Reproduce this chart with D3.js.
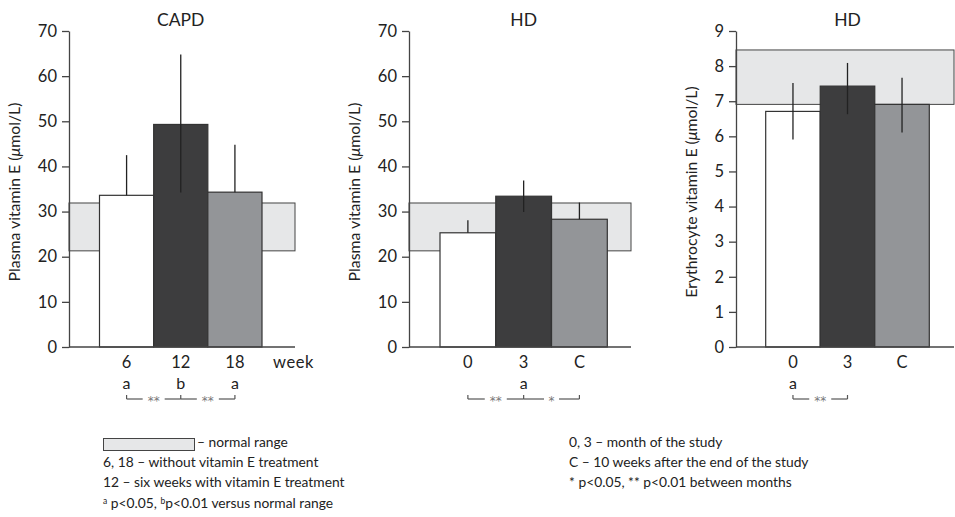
<!DOCTYPE html>
<html>
<head>
<meta charset="utf-8">
<script src="https://cdn.jsdelivr.net/npm/d3@7"></script>
<style>
  body { margin: 0; background: #fff; }
  svg { font-family: Lato, "Open Sans", sans-serif; }
</style>
</head>
<body>
<svg id="chart" width="955" height="517"></svg>
<script>
// data
var capdWeeks = ["6", "12", "18"];
var capdMeans = [33.6, 49.3, 34.3];
var capdErrLo = [33.6, 34.2, 34.3];
var capdErrHi = [42.5, 64.8, 44.8];
var capdLetters = ["a", "b", "a"];
var capdStars = ["**", "**"];

var hdMonths = ["0", "3", "C"];
var hdPlasmaMeans = [25.3, 33.4, 28.3];
var hdPlasmaErrLo = [25.3, 29.9, 28.3];
var hdPlasmaErrHi = [28.1, 36.9, 32.0];
var hdPlasmaLetters = ["", "a", ""];
var hdPlasmaStars = ["**", "*"];

var hdEryMeans = [6.71, 7.43, 6.91];
var hdEryErrLo = [5.91, 6.63, 6.11];
var hdEryErrHi = [7.52, 8.09, 7.67];
var hdEryLetters = ["a", "", ""];
var hdEryStars = ["**"];

var plasmaNormal = [21.3, 31.9];
var eryNormal = [6.91, 8.46];

var barColors = ["#ffffff", "#3d3d3e", "#939598"];

var legendLeft = ["6, 18 \u2013 without vitamin E treatment", "12 \u2013 six weeks with vitamin E treatment"];
var legendRight = ["0, 3 \u2013 month of the study", "C \u2013 10 weeks after the end of the study", "* p<0.05, ** p<0.01 between months"];

var svg = d3.select("#chart");
var yTop = 31, yBottom = 347;

var panels = [
  {title: "CAPD", label: "Plasma vitamin E (", ax: 69, right: 295, b0: 99.5, b1: 262, labx: 14,
   max: 70, step: 10, cats: capdWeeks, means: capdMeans, lo: capdErrLo, hi: capdErrHi,
   letters: capdLetters, stars: capdStars, normal: plasmaNormal, unit: "week"},
  {title: "HD", label: "Plasma vitamin E (", ax: 409, right: 631, b0: 440, b1: 607.3, labx: 354,
   max: 70, step: 10, cats: hdMonths, means: hdPlasmaMeans, lo: hdPlasmaErrLo, hi: hdPlasmaErrHi,
   letters: hdPlasmaLetters, stars: hdPlasmaStars, normal: plasmaNormal},
  {title: "HD", label: "Erythrocyte vitamin E (", ax: 736, right: 954, b0: 765.7, b1: 929.3, labx: 691,
   max: 9, step: 1, cats: hdMonths, means: hdEryMeans, lo: hdEryErrLo, hi: hdEryErrHi,
   letters: hdEryLetters, stars: hdEryStars, normal: eryNormal}
];

panels.forEach(function(p){
  var g = svg.append("g");
  var y = d3.scaleLinear().domain([0, p.max]).range([yBottom, yTop]);
  var x = d3.scaleBand().domain(p.cats).range([p.b0, p.b1]).padding(0);

  // normal range band
  g.append("rect")
    .attr("x", p.ax).attr("width", p.right - p.ax)
    .attr("y", y(p.normal[1])).attr("height", y(p.normal[0]) - y(p.normal[1]))
    .attr("fill", "#e6e7e8").attr("stroke", "#444").attr("stroke-width", 1);

  // bars
  g.selectAll(".bar").data(p.means).enter().append("rect")
    .attr("x", function(d, i){ return x(p.cats[i]); })
    .attr("width", x.bandwidth())
    .attr("y", function(d){ return y(d); })
    .attr("height", function(d){ return yBottom - y(d); })
    .attr("fill", function(d, i){ return barColors[i]; })
    .attr("stroke", "#333").attr("stroke-width", 1.2);

  // error bars
  g.selectAll(".err").data(p.means).enter().append("line")
    .attr("x1", function(d, i){ return x(p.cats[i]) + x.bandwidth() / 2; })
    .attr("x2", function(d, i){ return x(p.cats[i]) + x.bandwidth() / 2; })
    .attr("y1", function(d, i){ return y(p.lo[i]); })
    .attr("y2", function(d, i){ return y(p.hi[i]); })
    .attr("stroke", "#222").attr("stroke-width", 1.3);

  // x baseline
  g.append("line").attr("x1", p.ax).attr("x2", p.right)
    .attr("y1", yBottom).attr("y2", yBottom)
    .attr("stroke", "#444").attr("stroke-width", 1.3);

  // y axis
  var ay = g.append("g").attr("transform", "translate(" + p.ax + ",0)")
    .call(d3.axisLeft(y).tickValues(d3.range(0, p.max + 0.001, p.step)).tickSize(7).tickSizeOuter(0).tickPadding(5));
  ay.select(".domain").attr("stroke", "#444").attr("stroke-width", 1.3);
  ay.selectAll(".tick line").attr("stroke", "#444").attr("stroke-width", 1.3);
  ay.selectAll(".tick text").attr("font-size", 16.5).attr("fill", "#222").attr("font-family", "Lato, sans-serif");

  // category labels
  g.selectAll(".cat").data(p.cats).enter().append("text")
    .attr("x", function(d){ return x(d) + x.bandwidth() / 2; })
    .attr("y", 368).attr("text-anchor", "middle")
    .attr("font-size", 16.5).attr("fill", "#222").text(function(d){ return d; });
  if (p.unit) {
    g.append("text").attr("x", p.b1 + 11).attr("y", 368)
      .attr("font-size", 16.5).attr("letter-spacing", 0.6).attr("fill", "#222").text(p.unit);
  }

  // significance letters
  g.selectAll(".let").data(p.letters).enter().append("text")
    .attr("x", function(d, i){ return x(p.cats[i]) + x.bandwidth() / 2; })
    .attr("y", 389).attr("text-anchor", "middle")
    .attr("font-size", 16).attr("fill", "#222").text(function(d){ return d; });

  // bracket with stars
  var by = 399;
  var cx = p.cats.slice(0, p.stars.length + 1).map(function(c){ return x(c) + x.bandwidth() / 2; });
  cx.forEach(function(c){
    g.append("line").attr("x1", c).attr("x2", c).attr("y1", by).attr("y2", by - 4)
      .attr("stroke", "#555").attr("stroke-width", 1.2);
  });
  p.stars.forEach(function(s, i){
    var a = cx[i], b = cx[i + 1], m = (a + b) / 2, gap = s.length * 7 + 8;
    g.append("line").attr("x1", a).attr("x2", m - gap / 2).attr("y1", by).attr("y2", by)
      .attr("stroke", "#555").attr("stroke-width", 1.2);
    g.append("line").attr("x1", m + gap / 2).attr("x2", b).attr("y1", by).attr("y2", by)
      .attr("stroke", "#555").attr("stroke-width", 1.2);
    g.append("text").attr("x", m).attr("y", by + 6).attr("text-anchor", "middle")
      .attr("font-family", "DejaVu Sans, sans-serif")
      .attr("font-size", 12).attr("fill", "#777").text(s);
  });

  // title
  g.append("text").attr("x", (p.b0 + p.b1) / 2).attr("y", 26).attr("text-anchor", "middle")
    .attr("font-size", 17.5).attr("fill", "#222").text(p.title);

  // y label
  var lab = g.append("text")
    .attr("transform", "translate(" + p.labx + "," + ((yTop + yBottom) / 2 + 3) + ") rotate(-90)")
    .attr("text-anchor", "middle").attr("dy", "0.35em")
    .attr("font-size", 15.8).attr("fill", "#222");
  lab.append("tspan").text(p.label);
  lab.append("tspan").attr("font-style", "italic").text("\u03bc");
  lab.append("tspan").text("mol/L)");
});

// legend, left column
var rowY = [446.5, 467, 487, 507.5];
var lg = svg.append("g").attr("font-size", 13.8).attr("fill", "#222");
lg.append("rect").attr("x", 103.5).attr("y", 438.5).attr("width", 91).attr("height", 12)
  .attr("fill", "#e6e7e8").attr("stroke", "#444").attr("stroke-width", 1);
lg.append("text").attr("x", 197).attr("y", rowY[0]).text("\u2013 normal range");
lg.selectAll(".ll").data(legendLeft).enter().append("text")
  .attr("x", 103).attr("y", function(d, i){ return rowY[i + 1]; }).text(function(d){ return d; });
var last = lg.append("text").attr("x", 103).attr("y", rowY[3]);
last.append("tspan").attr("font-size", 8.5).attr("dy", -4).text("a");
last.append("tspan").attr("dy", 4).text(" p<0.05, ");
last.append("tspan").attr("font-size", 8.5).attr("dy", -4).text("b");
last.append("tspan").attr("dy", 4).text("p<0.01 versus normal range");

// legend, right column
lg.selectAll(".lr").data(legendRight).enter().append("text")
  .attr("x", 569).attr("y", function(d, i){ return rowY[i]; }).text(function(d){ return d; });
</script>
</body>
</html>
